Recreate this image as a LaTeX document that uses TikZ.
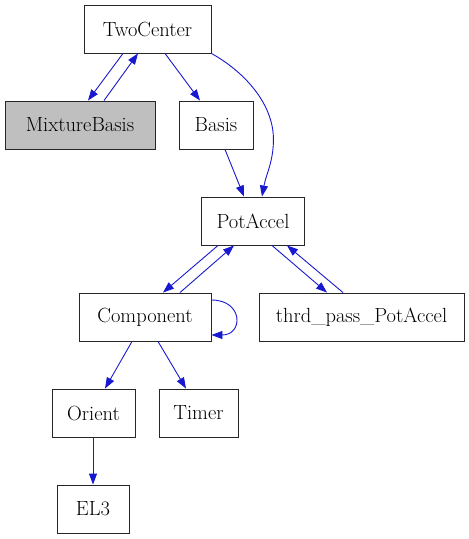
\documentclass[tikz,border=0pt]{standalone}
\usetikzlibrary{arrows.meta,calc}
\definecolor{edgeblue}{RGB}{24,24,208}
\definecolor{boxgray}{RGB}{191,191,191}
\begin{document}
\begin{tikzpicture}[x=1pt,y=1pt,
  box/.style={draw=black!85,line width=0.9pt,inner sep=0pt,minimum height=48pt,font=\fontsize{20.5}{24}\selectfont},
  dep/.style={draw=edgeblue,line width=0.9pt,-{Triangle[length=11pt,width=8pt]}}]
\useasboundingbox (0,0) rectangle (469,-539);
\node[box,minimum width=127pt] (TwoCenter) at (147.5,-29) {TwoCenter};
\node[box,minimum width=150pt,fill=boxgray] (MixtureBasis) at (80,-125) {MixtureBasis};
\node[box,minimum width=74pt] (Basis) at (216,-125) {Basis};
\node[box,minimum width=103pt] (PotAccel) at (253,-221) {PotAccel};
\node[box,minimum width=132pt] (Component) at (145,-317) {Component};
\node[box,minimum width=205pt] (thrd) at (361.5,-317) {thrd\_pass\_PotAccel};
\node[box,minimum width=83pt] (Orient) at (93.5,-413) {Orient};
\node[box,minimum width=79pt] (Timer) at (198.5,-413) {Timer};
\node[box,minimum width=72pt] (EL3) at (93,-509) {EL3};
\coordinate (bend) at ($(TwoCenter.south east)+(62,-86)$);

\draw[dep] ([xshift=-24.5pt]TwoCenter.south) -- ([xshift=8pt]MixtureBasis.north);
\draw[dep] ([xshift=24pt]MixtureBasis.north) -- ([xshift=-9.5pt]TwoCenter.south);
\draw[dep] ([xshift=17.5pt]TwoCenter.south) -- ([xshift=-16pt]Basis.north);
\draw[dep] (TwoCenter.south east) .. controls +(34,-19) and +(0,35) .. (bend) .. controls +(0,-22) and +(4,22) .. ([xshift=9pt]PotAccel.north);
\draw[dep] ([xshift=9pt]Basis.south) -- ([xshift=-9pt]PotAccel.north);
\draw[dep] ([xshift=-35pt]PotAccel.south) -- ([xshift=18pt]Component.north);
\draw[dep] ([xshift=35pt]Component.north) -- ([xshift=-19pt]PotAccel.south);
\draw[dep] ([xshift=19pt]PotAccel.south) -- ([xshift=-34.5pt]thrd.north);
\draw[dep] ([xshift=-18.5pt]thrd.north) -- ([xshift=34pt]PotAccel.south);
\draw[dep] ([yshift=17pt]Component.east) .. controls +(32,0) and +(32,0) .. ([yshift=-18pt]Component.east);
\draw[dep] ([xshift=-13pt]Component.south) -- ([xshift=11.5pt]Orient.north);
\draw[dep] ([xshift=13pt]Component.south) -- ([xshift=-12.5pt]Timer.north);
\draw[dep] ([xshift=-0.5pt]Orient.south) -- (EL3.north);
\end{tikzpicture}
\end{document}
